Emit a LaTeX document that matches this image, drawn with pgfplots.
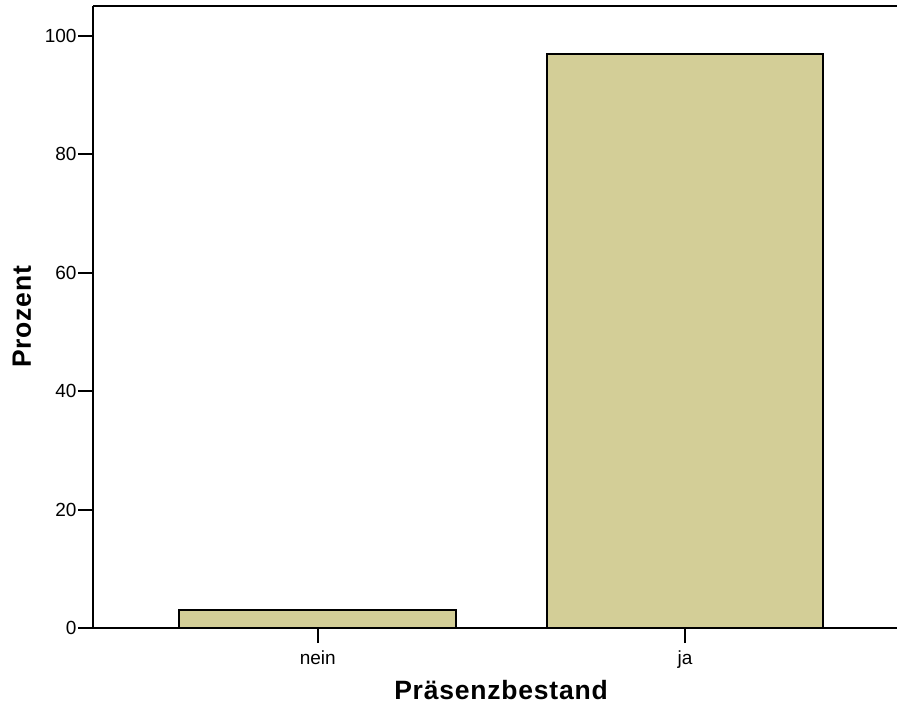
\documentclass[border=0pt]{standalone}
\usepackage{fontspec}
\setmainfont{Liberation Sans}
\usepackage{pgfplots}
\pgfplotsset{compat=1.18}
\definecolor{barfill}{RGB}{211,206,151}
\begin{document}
\begin{tikzpicture}
\useasboundingbox (0pt,0pt) rectangle (897pt,704pt);
\begin{axis}[
  at={(93pt,76pt)}, anchor=south west,
  scale only axis,
  width=804pt, height=622pt,
  xmin=-0.612, xmax=1.577,
  ymin=0, ymax=105.07,
  axis x line*=bottom, axis y line*=left,
  axis line style={line width=2pt, -},
  xtick={0,1}, xticklabels={nein,ja},
  ytick={0,20,40,60,80,100},
  tick align=outside,
  major tick length=15pt,
  tick style={line width=2pt, black},
  /pgf/number format/assume math mode=true,
  ticklabel style={font=\fontsize{19}{21}\selectfont},
  xticklabel style={yshift=-4pt},
  yticklabel style={xshift=2pt},
  xlabel={Präsenzbestand},
  ylabel={Prozent},
  label style={font=\fontsize{26.5}{30}\selectfont\bfseries\addfontfeatures{LetterSpace=3}},
  xlabel style={at={(axis description cs:0.5075,-0.0997)}, anchor=center},
  ylabel style={at={(axis description cs:-0.0883,0.5)}, anchor=center},
  clip=false,
]
\addplot[ybar, bar width=0.753, fill=barfill, draw=black, line width=2pt]
  coordinates {(0,3) (1,97)};
\draw[line width=2pt] (rel axis cs:0,1) -- (rel axis cs:1,1);
\end{axis}
\end{tikzpicture}
\end{document}
